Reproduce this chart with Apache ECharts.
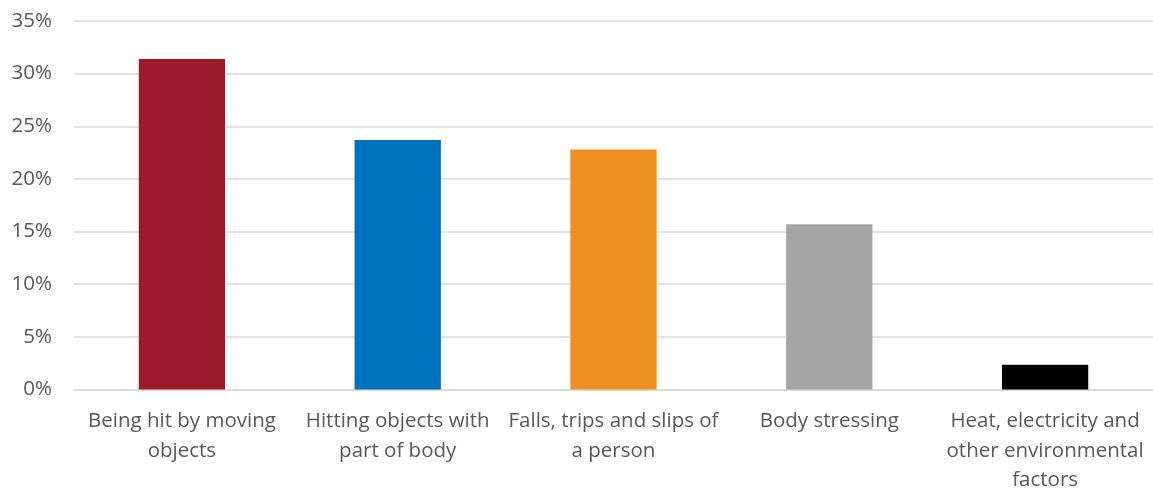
<!DOCTYPE html>
<html>
<head>
<meta charset="utf-8">
<script src="https://cdn.jsdelivr.net/npm/echarts@6/dist/echarts.min.js"></script>
<style>
  html, body { margin: 0; padding: 0; background: #fff; overflow: hidden; }
  #chart { width: 1153px; height: 495px; }
</style>
</head>
<body>
<div id="chart"></div>
<script>
// Share of injuries by cause
const categories = [
  'Being hit by moving\nobjects',
  'Hitting objects with\npart of body',
  'Falls, trips and slips of\na person',
  'Body stressing',
  'Heat, electricity and\nother environmental\nfactors'
];
const shares = [31.4, 23.7, 22.8, 15.7, 2.35];
const barColors = ['#9B1B2A', '#0070C0', '#EE8F20', '#A5A5A5', '#000000'];
const yTicks = { min: 0, max: 35, step: 5 };

const chart = echarts.init(document.getElementById('chart'), null, { renderer: 'canvas' });
chart.setOption({
  animation: false,
  // plot area runs slightly past the right edge of the canvas
  grid: { left: 74, right: -6, top: 21, bottom: 99, containLabel: false },
  xAxis: {
    type: 'category',
    data: categories,
    axisLine: { show: true, lineStyle: { color: '#D9D9D9', width: 1.5 } },
    axisTick: { show: false },
    axisLabel: {
      color: '#595959',
      fontFamily: 'Open Sans',
      fontSize: 20.5,
      lineHeight: 29.5,
      margin: 17,
      interval: 0
    }
  },
  yAxis: {
    type: 'value',
    min: yTicks.min,
    max: yTicks.max,
    interval: yTicks.step,
    axisLine: { show: false },
    axisTick: { show: false },
    splitLine: { lineStyle: { color: '#D9D9D9', width: 1.5 } },
    axisLabel: {
      color: '#595959',
      fontFamily: 'Open Sans',
      fontSize: 20.5,
      margin: 22,
      formatter: v => v + '%'
    }
  },
  series: [{
    type: 'bar',
    data: shares.map((v, i) => ({ value: v, itemStyle: { color: barColors[i] } })),
    barWidth: '40%'
  }]
});
</script>
</body>
</html>
